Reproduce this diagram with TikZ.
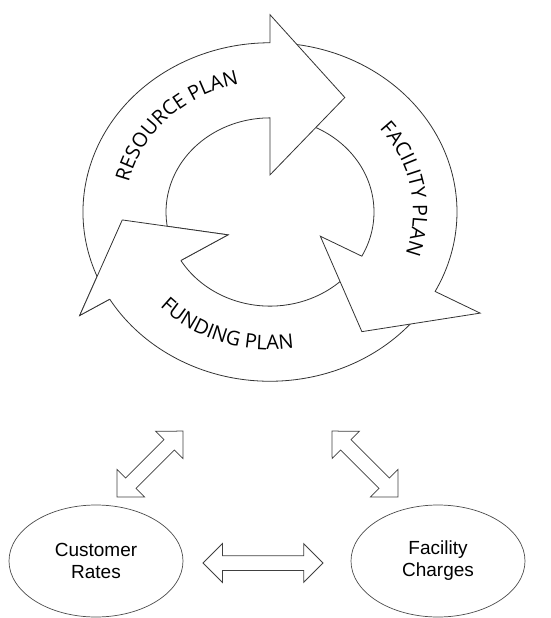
\documentclass[tikz,border=0pt]{standalone}
\usepackage{fontspec}
\setmainfont{Liberation Sans}
\newfontfamily\ringfont{Open Sans}
\usetikzlibrary{shapes,arrows,positioning,calc,decorations.text}

\tikzset{
  ringline/.style={draw=black!80, line width=0.8pt, fill=white},
  oval/.style={ellipse, draw=black!70, line width=0.7pt, minimum width=174pt,
    minimum height=112pt, align=center, font=\fontsize{19}{22}\selectfont},
  blockarrow/.style={double arrow, draw=black!75, line width=0.75pt, fill=white,
    inner sep=0pt, text height=7pt, text depth=7pt, minimum width=1pt,
    double arrow head extend=12pt, double arrow tip angle=90},
  ringtext/.style={decorate, decoration={text along path, text align=center,
    text={|\ringfont\fontsize{20}{24}\selectfont|#1}}}
}

\begin{document}
\begin{tikzpicture}[x=1pt, y=1pt]
    \useasboundingbox (0,0) rectangle (551,-618);

    % Planning cycle: funding, facility, resource
    \begin{scope}[shift={(270,-212)}, yscale=0.905]
        \foreach \b/\tout/\tin/\ob/\ib/\ta/\tr in {211/327/321/222/49/183.4/148,
            -28/85/79/238/57/-55.2/161, 90/206/200/218/41/59.4/147} {
            \filldraw[ringline] (\tout:187) arc[start angle=\tout, end angle=\b, radius=187]
                -- (\b:\ob) -- (\ta:\tr) -- (\b:\ib) -- (\b:104)
                arc[start angle=\b, end angle=\tin, radius=104];
        }
        % funding head again, over the resource tail
        \filldraw[ringline] (211:187) -- (211:222) -- (183.4:148) -- (211:49) -- (211:104);
    \end{scope}

    % Labels on the ring
    \begin{scope}[shift={(270,-212)}]
        \path[ringtext={RESOURCE PLAN}] (175:145 and 131.2)
            arc[start angle=175, end angle=95, x radius=145, y radius=131.2];
        \path[ringtext={FACILITY PLAN}] (50:143 and 129.4)
            arc[start angle=50, end angle=-29, x radius=143, y radius=129.4];
        \path[ringtext={FUNDING PLAN}] (211:152 and 137.6)
            arc[start angle=211, end angle=291, x radius=152, y radius=137.6];
    \end{scope}

    % Rates and charges
    \node[oval] (rates) at (96,-561) {Customer\\Rates};
    \node[oval] (charges) at (438,-561) {Facility\\Charges};

    \node[blockarrow, minimum height=93pt, rotate=45] (linkleft) at (150,-464) {};
    \node[blockarrow, minimum height=93pt, rotate=-45] (linkright) at (365,-464) {};
    \node[blockarrow, minimum height=120pt] (linkbottom) at (263,-563) {};
\end{tikzpicture}
\end{document}
